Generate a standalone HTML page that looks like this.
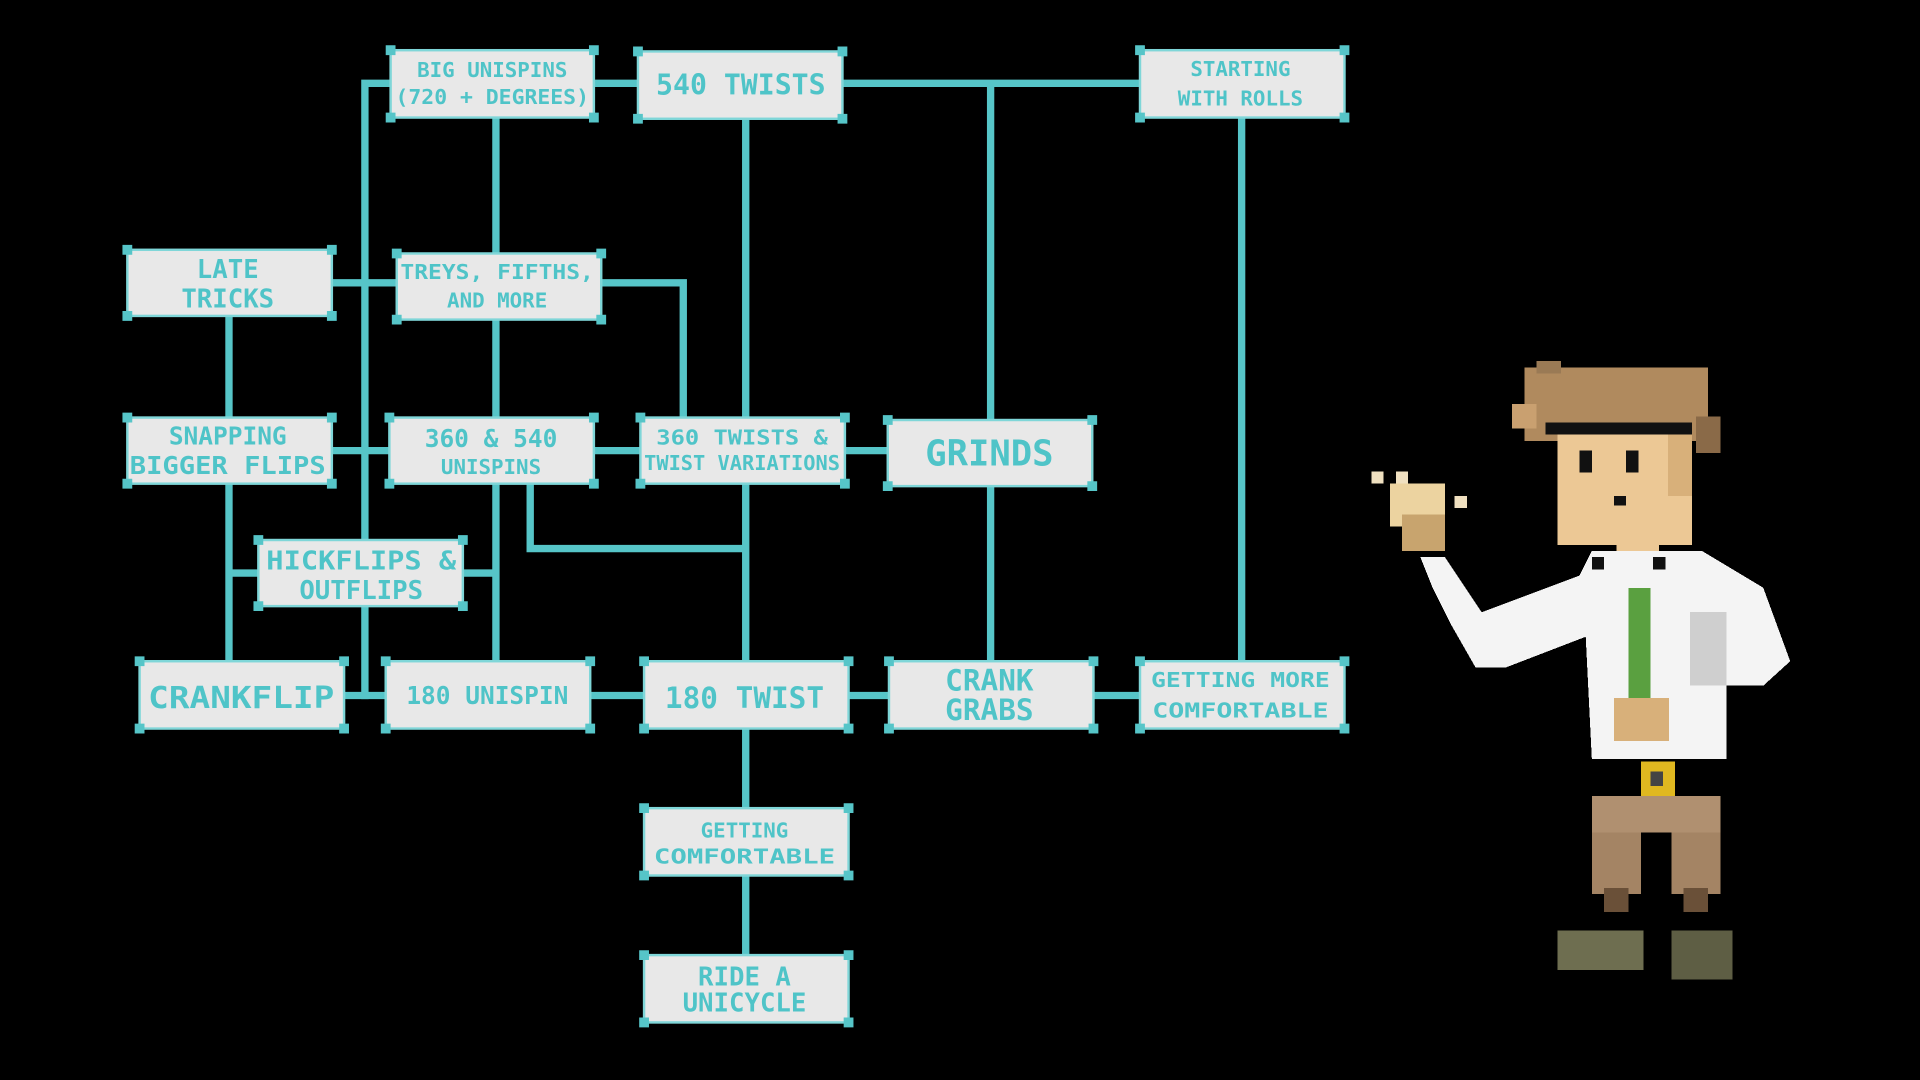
<!DOCTYPE html>
<html><head><meta charset="utf-8"><style>
html,body{margin:0;padding:0;background:#000;width:1920px;height:1080px;overflow:hidden}
svg{display:block}
text{font-family:"DejaVu Sans Mono","Liberation Mono",monospace;font-weight:bold;fill:#4fc4c8;text-anchor:middle}
</style></head><body>
<svg width="1920" height="1080" viewBox="0 0 1568 882" xmlns="http://www.w3.org/2000/svg">
<rect width="1568" height="882" fill="#000"/>
<g stroke="#56c5c8" stroke-width="6" fill="none">
<path d="M298 68H931 M298 65V571 M405 96V540 M609 97V660 M609 715V780 M809 68V343 M809 397V540 M1014 96V540"/>
<path d="M271 231H324 M491 231H558V341 M187 258V341 M187 395V540"/>
<path d="M271 368H318 M485 368H523 M690 368H725"/>
<path d="M433 395V448H609 M187 468H211 M378 468H405"/>
<path d="M281 568H315 M482 568H526 M693 568H726 M893 568H931"/>
</g>
<g id="boxes">
<!-- helper boxes -->
</g>
<g fill="#e8e8e8" stroke="#7fd6d8" stroke-width="2">
<rect x="319" y="41" width="166" height="55"/>
<rect x="521" y="42" width="167" height="55"/>
<rect x="931" y="41" width="167" height="55"/>
<rect x="104" y="204" width="167" height="54"/>
<rect x="324" y="207" width="167" height="54"/>
<rect x="104" y="341" width="167" height="54"/>
<rect x="318" y="341" width="167" height="54"/>
<rect x="523" y="341" width="167" height="54"/>
<rect x="725" y="343" width="167" height="54"/>
<rect x="211" y="441" width="167" height="54"/>
<rect x="114" y="540" width="167" height="55"/>
<rect x="315" y="540" width="167" height="55"/>
<rect x="526" y="540" width="167" height="55"/>
<rect x="726" y="540" width="167" height="55"/>
<rect x="931" y="540" width="167" height="55"/>
<rect x="526" y="660" width="167" height="55"/>
<rect x="526" y="780" width="167" height="55"/>
</g>
<g fill="#56c5c8">
<path d="M315 37h8v8h-8zM481 37h8v8h-8zM315 92h8v8h-8zM481 92h8v8h-8z"/>
<path d="M517 38h8v8h-8zM684 38h8v8h-8zM517 93h8v8h-8zM684 93h8v8h-8z"/>
<path d="M927 37h8v8h-8zM1094 37h8v8h-8zM927 92h8v8h-8zM1094 92h8v8h-8z"/>
<path d="M100 200h8v8h-8zM267 200h8v8h-8zM100 254h8v8h-8zM267 254h8v8h-8z"/>
<path d="M320 203h8v8h-8zM487 203h8v8h-8zM320 257h8v8h-8zM487 257h8v8h-8z"/>
<path d="M100 337h8v8h-8zM267 337h8v8h-8zM100 391h8v8h-8zM267 391h8v8h-8z"/>
<path d="M314 337h8v8h-8zM481 337h8v8h-8zM314 391h8v8h-8zM481 391h8v8h-8z"/>
<path d="M519 337h8v8h-8zM686 337h8v8h-8zM519 391h8v8h-8zM686 391h8v8h-8z"/>
<path d="M721 339h8v8h-8zM888 339h8v8h-8zM721 393h8v8h-8zM888 393h8v8h-8z"/>
<path d="M207 437h8v8h-8zM374 437h8v8h-8zM207 491h8v8h-8zM374 491h8v8h-8z"/>
<path d="M110 536h8v8h-8zM277 536h8v8h-8zM110 591h8v8h-8zM277 591h8v8h-8z"/>
<path d="M311 536h8v8h-8zM478 536h8v8h-8zM311 591h8v8h-8zM478 591h8v8h-8z"/>
<path d="M522 536h8v8h-8zM689 536h8v8h-8zM522 591h8v8h-8zM689 591h8v8h-8z"/>
<path d="M722 536h8v8h-8zM889 536h8v8h-8zM722 591h8v8h-8zM889 591h8v8h-8z"/>
<path d="M927 536h8v8h-8zM1094 536h8v8h-8zM927 591h8v8h-8zM1094 591h8v8h-8z"/>
<path d="M522 656h8v8h-8zM689 656h8v8h-8zM522 711h8v8h-8zM689 711h8v8h-8z"/>
<path d="M522 776h8v8h-8zM689 776h8v8h-8zM522 831h8v8h-8zM689 831h8v8h-8z"/>
</g>
<g font-size="17">
<text x="402" y="63">BIG UNISPINS</text>
<text x="402" y="85" textLength="158" lengthAdjust="spacingAndGlyphs">(720 + DEGREES)</text>
<text x="605" y="77" font-size="23">540 TWISTS</text>
<text x="1013" y="62">STARTING</text>
<text x="1013" y="86">WITH ROLLS</text>
<text x="186" y="227" font-size="21">LATE</text>
<text x="186" y="251" font-size="21">TRICKS</text>
<text x="406" y="228" textLength="158" lengthAdjust="spacingAndGlyphs">TREYS, FIFTHS,</text>
<text x="406" y="251">AND MORE</text>
<text x="186" y="363" font-size="20">SNAPPING</text>
<text x="186" y="387" font-size="20" textLength="160" lengthAdjust="spacingAndGlyphs">BIGGER FLIPS</text>
<text x="401" y="365" font-size="20">360 &amp; 540</text>
<text x="401" y="387">UNISPINS</text>
<text x="606" y="363" textLength="140" lengthAdjust="spacingAndGlyphs">360 TWISTS &amp;</text>
<text x="606" y="384" textLength="160" lengthAdjust="spacingAndGlyphs">TWIST VARIATIONS</text>
<text x="808" y="380" font-size="29">GRINDS</text>
<text x="295" y="465" font-size="21" textLength="155" lengthAdjust="spacingAndGlyphs">HICKFLIPS &amp;</text>
<text x="295" y="489" font-size="21">OUTFLIPS</text>
<text x="197" y="578" font-size="25" textLength="152" lengthAdjust="spacingAndGlyphs">CRANKFLIP</text>
<text x="398" y="575" font-size="20">180 UNISPIN</text>
<text x="608" y="578" font-size="24">180 TWIST</text>
<text x="808" y="564" font-size="24">CRANK</text>
<text x="808" y="588" font-size="24">GRABS</text>
<text x="1013" y="561" textLength="146" lengthAdjust="spacingAndGlyphs">GETTING MORE</text>
<text x="1013" y="586" textLength="144" lengthAdjust="spacingAndGlyphs">COMFORTABLE</text>
<text x="608" y="684">GETTING</text>
<text x="608" y="705" textLength="148" lengthAdjust="spacingAndGlyphs">COMFORTABLE</text>
<text x="608" y="805" font-size="21">RIDE A</text>
<text x="608" y="826" font-size="21">UNICYCLE</text>
</g>
<!-- character -->
<g shape-rendering="crispEdges">
<rect x="1245" y="300" width="150" height="60" fill="#b08a5e"/>
<rect x="1255" y="295" width="20" height="10" fill="#9a7a55"/>
<rect x="1235" y="330" width="20" height="20" fill="#c9a070"/>
<rect x="1385" y="340" width="20" height="30" fill="#8a6a48"/>
<rect x="1262" y="345" width="120" height="10" fill="#111"/>
<rect x="1272" y="355" width="110" height="90" fill="#ecc895"/>
<rect x="1362" y="355" width="20" height="50" fill="#d8b07a"/>
<rect x="1290" y="368" width="10" height="18" fill="#111"/>
<rect x="1328" y="368" width="10" height="18" fill="#111"/>
<rect x="1318" y="405" width="10" height="8" fill="#111"/>
<rect x="1320" y="440" width="35" height="20" fill="#ecc895"/>
<polygon points="1160,455 1180,455 1210,500 1290,470 1300,450 1390,450 1440,480 1462,540 1440,560 1410,560 1410,620 1300,620 1295,520 1230,545 1205,545 1185,510 1170,480" fill="#f4f4f4"/>
<rect x="1330" y="480" width="18" height="90" fill="#5aa040"/>
<rect x="1300" y="455" width="10" height="10" fill="#111"/>
<rect x="1350" y="455" width="10" height="10" fill="#111"/>
<rect x="1380" y="500" width="30" height="60" fill="#cfcfcf"/>
<rect x="1318" y="570" width="45" height="35" fill="#d8b07a"/>
<rect x="1340" y="622" width="28" height="28" fill="#e0b820"/>
<rect x="1348" y="630" width="10" height="12" fill="#444"/>
<rect x="1300" y="650" width="105" height="30" fill="#b09070"/>
<rect x="1300" y="680" width="40" height="50" fill="#a48464"/>
<rect x="1365" y="680" width="40" height="50" fill="#a48464"/>
<rect x="1310" y="725" width="20" height="20" fill="#6a5038"/>
<rect x="1375" y="725" width="20" height="20" fill="#6a5038"/>
<rect x="1272" y="760" width="70" height="32" fill="#6e6e50"/>
<rect x="1365" y="760" width="50" height="40" fill="#5e5e44"/>
<rect x="1135" y="395" width="45" height="35" fill="#ecd3a0"/>
<rect x="1145" y="420" width="35" height="30" fill="#c8a46e"/>
<rect x="1120" y="385" width="10" height="10" fill="#f0e0c0"/>
<rect x="1140" y="385" width="10" height="10" fill="#f0e0c0"/>
<rect x="1188" y="405" width="10" height="10" fill="#f0e0c0"/>
</g>
</svg>
</body></html>
